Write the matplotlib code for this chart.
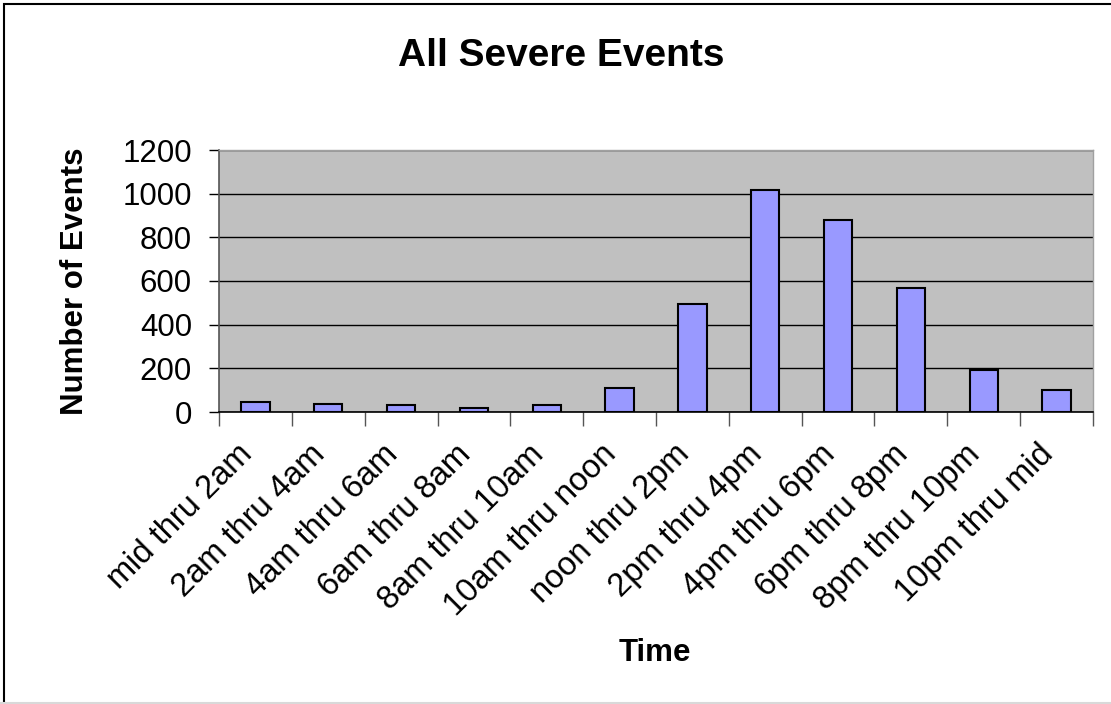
import matplotlib
matplotlib.use("Agg")
import matplotlib.pyplot as plt
import matplotlib.transforms as mtrans
import numpy as np
from matplotlib.patches import Rectangle

categories = ["mid thru 2am", "2am thru 4am", "4am thru 6am", "6am thru 8am",
              "8am thru 10am", "10am thru noon", "noon thru 2pm", "2pm thru 4pm",
              "4pm thru 6pm", "6pm thru 8pm", "8pm thru 10pm", "10pm thru mid"]
values = [47, 38, 30, 20, 30, 111, 495, 1015, 879, 568, 192, 102]
yticks = [0, 200, 400, 600, 800, 1000, 1200]

plt.rcParams['font.family'] = ['Liberation Sans', 'DejaVu Sans']

fig = plt.figure(figsize=(11.11, 7.04), dpi=100)
ax = fig.add_axes([219/1111, 1-412/704, (1093-219)/1111, (412-150)/704])
ax.set_facecolor('#C0C0C0')

x = np.arange(len(categories))
ax.bar(x, values, width=0.39, color='#9999FF', edgecolor='black', linewidth=1.5, zorder=3)

ax.set_xlim(-0.5, len(categories) - 0.5)
ax.set_ylim(0, 1200)
ax.set_yticks(yticks)
ax.set_yticklabels([str(v) for v in yticks], fontsize=22.5)
ax.yaxis.grid(True, color='black', linewidth=1.0, zorder=1)
ax.set_axisbelow(True)

ax.set_xticks(np.arange(len(categories) + 1) - 0.5)
ax.set_xticklabels([])
ax.set_xticks(x, minor=True)
ax.set_xticklabels(categories, minor=True, rotation=45, ha='right', va='center',
                   rotation_mode='anchor', fontsize=23.5)
ax.tick_params(axis='x', which='minor', length=0, pad=27)
ax.tick_params(axis='x', which='major', length=10, color='#555555', width=1)
ax.tick_params(axis='y', length=7.5, color='black', width=1, pad=12)

offset = mtrans.ScaledTranslation(-8/100, 0, fig.dpi_scale_trans)
for lab in ax.get_xticklabels(minor=True):
    lab.set_transform(lab.get_transform() + offset)

for s in ['top', 'right']:
    ax.spines[s].set_color('#A0A0A0')
    ax.spines[s].set_linewidth(1)
ax.spines['left'].set_color('#555555')
ax.spines['bottom'].set_color('black')
ax.spines['left'].set_linewidth(1.2)
ax.spines['bottom'].set_linewidth(1.2)

fig.text(561/1111, 1-56/704, "All Severe Events", ha='center', va='center',
         fontsize=28, fontweight='bold')
fig.text(75/1111, 1-281/704, "Number of Events", ha='center', va='center',
         rotation=90, fontsize=22.5, fontweight='bold')
fig.text(655/1111, 1-653/704, "Time", ha='center', va='center',
         fontsize=22.5, fontweight='bold')

# chart border (cropped on right/bottom)
fig.add_artist(Rectangle((4/1111, -0.01), 1.2, 1 - 4/704 + 0.01, transform=fig.transFigure,
                         fill=False, edgecolor='black', linewidth=1.5))
fig.add_artist(plt.Line2D([0, 1], [1.5/704, 1.5/704], transform=fig.transFigure,
                          color='#D9D9D9', linewidth=1.5))

fig.savefig("out.png", dpi=100)
